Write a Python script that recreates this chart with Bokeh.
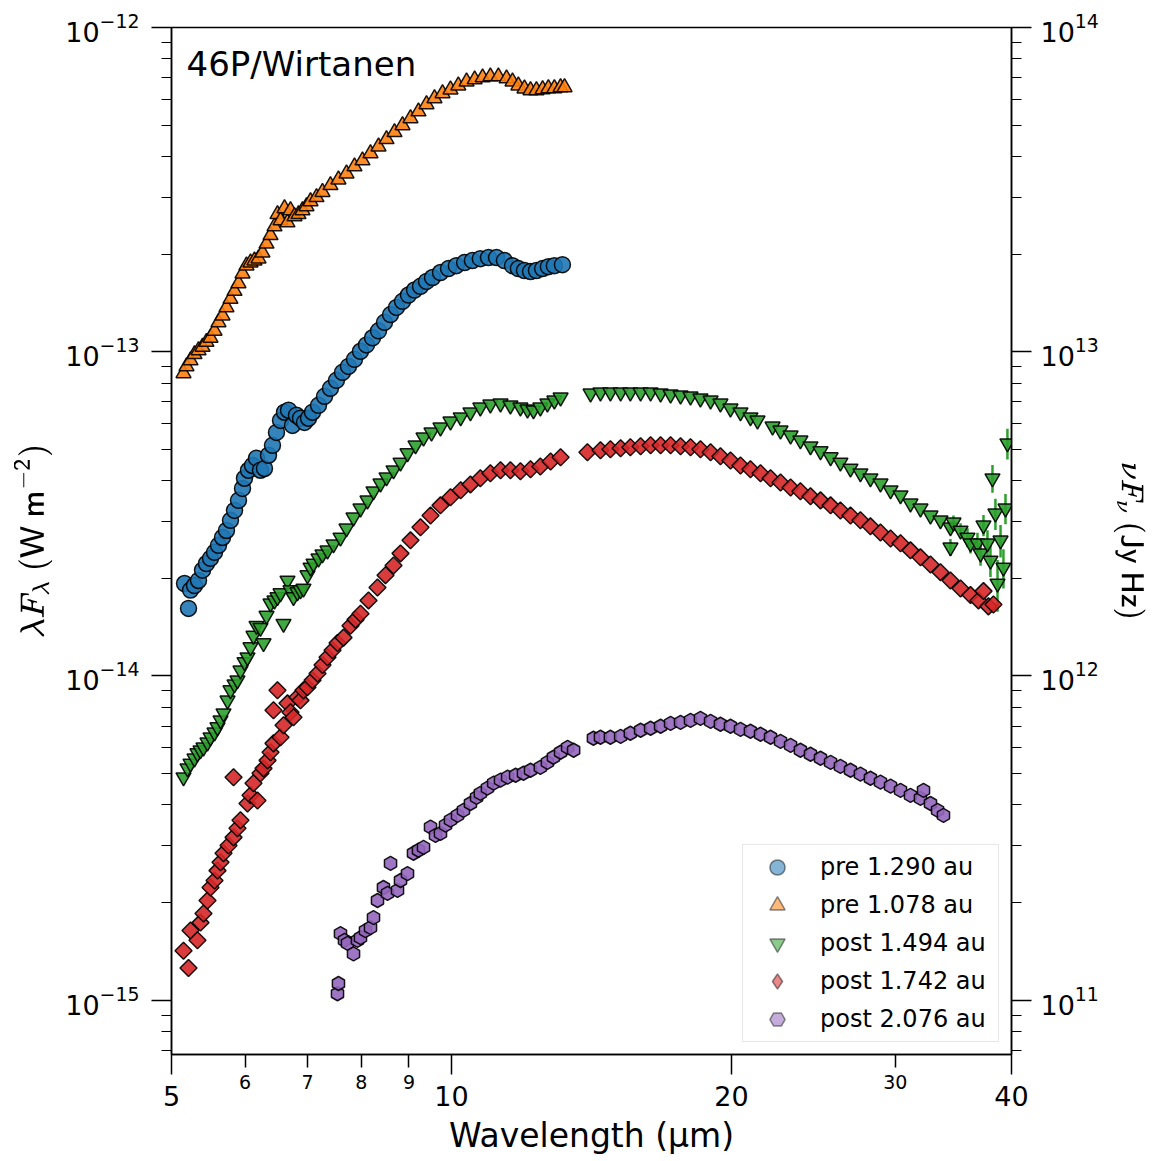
import numpy as np
from bokeh.plotting import figure
from bokeh.models import (Range1d, LogAxis, LogScale, FixedTicker, BasicTickFormatter,
                          Legend, LegendItem, Label)
from bokeh.embed import file_html
from bokeh.resources import INLINE

# ---------------- data (wavelength in micron, flux in 1e-15 W m^-2) ----------------
FLUX_UNIT = 1e-15
W_TO_JYHZ = 1e26   # 1 W m^-2 = 1e26 Jy Hz

blue_wl = [5.164, 5.215, 5.241, 5.293, 5.346, 5.399, 5.452, 5.507, 5.562, 5.617, 5.673, 5.729,
           5.786, 5.844, 5.902, 5.961, 5.990, 6.050, 6.110, 6.171, 6.232, 6.294, 6.357, 6.420,
           6.484, 6.549, 6.614, 6.680, 6.746, 6.813, 6.881, 6.950, 7.019, 7.089, 7.195, 7.303,
           7.411, 7.522, 7.635, 7.749, 7.865, 7.983, 8.102, 8.224, 8.347, 8.472, 8.599, 8.727,
           8.858, 8.990, 9.125, 9.261, 9.400, 9.541, 9.731, 9.926, 10.12, 10.33, 10.53, 10.74,
           10.96, 11.18, 11.40, 11.63, 11.80, 11.98, 12.16, 12.34, 12.53, 12.71, 12.90, 13.16]
blue_flux = [19.28, 16.16, 18.4, 19.01, 19.7, 21.2, 22.22, 23.05, 24.06, 25.29, 26.74, 28.1,
             30.2, 32.4, 34.8, 37.89, 40.72, 43.1, 44.59, 46.96, 43.1, 43.65, 47.96, 51.44,
             56.39, 61.4, 65.07, 66.0, 59.26, 63.7, 62.36, 60.53, 62.36, 65.07, 68.33, 72.83,
             77.1, 81.6, 86.37, 90.1, 94.75, 100.3, 104.98, 110.4, 116.0, 123.2, 130.2, 137.0,
             143.0, 149.6, 155.0, 159.1, 164.8, 169.4, 175.5, 180.5, 184.3, 188.3, 191.0, 193.7,
             195.1, 195.1, 191.0, 184.3, 180.5, 178.0, 176.7, 178.0, 180.5, 183.0, 184.3, 185.6]

orange_wl = [5.151, 5.189, 5.241, 5.293, 5.346, 5.399, 5.452, 5.507, 5.562, 5.617, 5.673, 5.729,
             5.786, 5.844, 5.902, 5.961, 6.020, 6.080, 6.140, 6.202, 6.263, 6.326, 6.389, 6.452,
             6.500, 6.549, 6.614, 6.663, 6.713, 6.780, 6.847, 6.915, 6.984, 7.054, 7.159, 7.266,
             7.411, 7.559, 7.711, 7.865, 8.022, 8.183, 8.347, 8.514, 8.684, 8.858, 9.035, 9.215,
             9.400, 9.588, 9.780, 9.975, 10.17, 10.38, 10.59, 10.80, 11.01, 11.23, 11.46, 11.63,
             11.80, 11.98, 12.16, 12.34, 12.53, 12.71, 12.90, 13.10, 13.23]
orange_flux = [85.8, 90.1, 94.0, 98.2, 101.0, 103.5, 107.2, 110.4, 116.0, 123.2, 129.3, 137.0,
               145.4, 153.9, 162.5, 174.2, 184.3, 188.3, 191.0, 193.7, 202.1, 215.4, 228.7, 243.4,
               265.4, 254.0, 276.8, 250.4, 273.0, 261.6, 265.4, 273.0, 280.8, 290.9, 299.7, 310.6,
               326.2, 339.6, 354.4, 372.8, 389.0, 409.2, 429.3, 452.2, 475.2, 499.0, 524.4, 551.0,
               579.3, 604.7, 626.5, 643.5, 662.0, 681.1, 691.4, 701.3, 706.3, 706.3, 696.3, 681.1,
               662.0, 648.1, 640.0, 640.0, 644.5, 649.0, 649.0, 653.7, 653.7]

green_wl = [5.151, 5.202, 5.241, 5.293, 5.332, 5.372, 5.412, 5.466, 5.507, 5.562, 5.603, 5.645,
            5.687, 5.744, 5.786, 5.844, 5.887, 5.931, 5.990, 6.035, 6.080, 6.125, 6.171, 6.232,
            6.279, 6.326, 6.389, 6.452, 6.500, 6.549, 6.598, 6.663, 6.713, 6.763, 6.830, 6.881,
            6.932, 7.001, 7.054, 7.106, 7.195, 7.266, 7.357, 7.467, 7.597, 7.711, 7.846, 7.983,
            8.122, 8.244, 8.388, 8.514, 8.663, 8.814, 8.968, 9.148, 9.331, 9.517, 9.731, 9.975,
            10.23, 10.48, 10.74, 11.01, 11.29, 11.57, 11.86, 12.07, 12.25, 12.46, 12.68, 12.90,
            13.10,
            14.11, 14.46, 14.82, 15.20, 15.57, 15.97, 16.37, 16.78, 17.20, 17.63, 18.07, 18.52,
            18.99, 19.46, 19.95, 20.45, 20.96, 21.33, 22.14, 22.58, 23.15, 23.72, 24.32, 24.93,
            25.56, 26.19, 26.85, 27.52, 28.21, 28.92, 29.65, 30.39, 31.15, 31.93, 32.73, 33.55,
            34.39, 34.39, 34.65, 35.26, 35.87, 36.14, 36.77, 37.05, 37.32, 37.69, 37.97, 38.16,
            38.44, 38.64, 38.93, 39.21, 39.41, 39.60]
green_flux = [4.87, 5.19, 5.37, 5.57, 5.78, 5.90, 6.02, 6.24, 6.47, 6.70, 6.95, 7.30,
              7.67, 8.41, 9.04, 9.43, 9.70, 10.4, 11.04, 11.42, 12.27, 13.32, 14.28, 14.08,
              12.63, 15.35, 16.74, 17.1, 17.51, 18.01, 14.49, 19.7, 18.4, 17.51, 18.14, 18.4,
              18.61, 20.46, 21.6, 22.22, 23.05, 23.72, 24.4, 25.47, 26.74, 28.53, 30.83, 32.88,
              34.8, 37.13, 39.25, 41.01, 43.1, 45.55, 48.65, 51.44, 54.43, 56.39, 58.42, 60.96,
              62.8, 65.07, 67.37, 68.82, 69.31, 68.33, 67.37, 66.42, 66.0, 67.37, 69.31, 70.8,
              72.31,
              74.4, 74.93, 74.93, 74.93, 74.93, 74.93, 74.93, 74.4, 73.87, 73.35, 72.83, 71.8,
              70.8, 69.31, 66.89, 65.07, 62.8, 61.4, 58.84, 57.2, 55.2, 53.3, 51.08, 49.35,
              47.29, 45.55, 43.65, 42.19, 40.72, 39.25, 37.4, 36.09, 34.07, 32.88, 31.27, 30.2,
              28.74, 24.93, 29.77, 28.1, 26.74, 25.65, 25.65, 23.88, 29.15, 25.65, 22.7, 40.72,
              31.72, 19.28, 26.2, 21.6, 32.88, 52.18]
# uncertainties of the last (long-wavelength) green points, same units
green_tail_err = [1.2, 1.5, 1.5, 1.5, 1.8, 1.8, 2.0, 2.0, 2.2, 2.5, 2.5, 4.0,
                  3.5, 3.5, 3.0, 3.0, 3.5, 5.7]

red_wl = [5.151, 5.215, 5.241, 5.332, 5.372, 5.412, 5.466, 5.507, 5.562, 5.603, 5.645, 5.687,
          5.758, 5.830, 5.887, 5.931, 5.830, 6.035, 6.080, 6.125, 6.186, 6.232, 6.279, 6.342,
          6.389, 6.436, 6.436, 6.500, 6.549, 6.598, 6.663, 6.713, 6.763, 6.830, 6.881, 6.932,
          7.001, 7.089, 7.177, 7.266, 7.357, 7.449, 7.541, 7.654, 7.787, 7.885, 7.983, 8.143,
          8.326, 8.493, 8.663, 8.814, 9.035, 9.261, 9.494, 9.731, 9.975, 10.23, 10.48, 10.74,
          11.01, 11.29, 11.57, 11.86, 12.16, 12.46, 12.78, 13.10,
          14.00, 14.46, 14.82, 15.20, 15.57, 15.97, 16.37, 16.78, 17.20, 17.63, 18.07, 18.52,
          18.99, 19.46, 19.95, 20.45, 20.96, 21.49, 22.03, 22.58, 23.15, 23.72, 24.32, 24.93,
          25.56, 26.19, 26.85, 27.52, 28.21, 28.92, 29.65, 30.39, 31.15, 31.93, 32.73, 33.55,
          34.39, 35.26, 36.14, 36.86, 37.32, 37.78, 38.25]
red_flux = [1.42, 1.257, 1.64, 1.53, 1.735, 1.85, 2.03, 2.226, 2.34, 2.51, 2.662, 2.839,
            3.0, 3.178, 3.392, 3.59, 4.87, 4.043, 4.285, 4.67, 4.13, 5.01, 5.187, 5.49,
            5.817, 6.196, 7.84, 9.04, 6.47, 7.045, 8.233, 7.729, 7.46, 8.60, 8.41, 9.04,
            9.23, 9.70, 10.18, 10.81, 11.42, 12.0, 12.63, 13.13, 14.28, 14.92, 15.56, 17.1,
            18.74, 20.46, 21.91, 23.88, 26.2, 28.74, 31.27, 33.59, 35.59, 37.4, 38.98, 40.72,
            42.19, 43.1, 43.1, 42.79, 43.41, 44.27, 45.87, 47.29,
            49.0, 49.7, 50.05, 50.41, 50.77, 51.13, 51.5, 51.5, 51.5, 51.13, 50.77, 50.05,
            49.0, 47.63, 46.2, 44.59, 43.41, 42.19, 40.72, 39.53, 38.15, 37.13, 35.84, 34.8,
            33.59, 32.4, 31.27, 30.2, 28.94, 27.7, 26.55, 25.65, 24.4, 23.22, 22.06, 20.9,
            19.7, 18.61, 17.76, 17.1, 18.27, 16.39, 16.62]

purple_wl = [7.541, 7.559, 7.597, 7.673, 7.730, 7.846, 7.924, 7.983, 8.082, 8.183, 8.244, 8.326,
             8.450, 8.599, 8.535, 8.749, 8.814, 8.968, 9.102, 9.215, 9.331, 9.494, 9.612, 9.731,
             9.853, 9.975, 10.15, 10.30, 10.48, 10.64, 10.74, 10.93, 11.10, 11.29, 11.49, 11.72,
             11.95, 12.16, 12.46, 12.68, 12.87, 13.10, 13.33, 13.53,
             14.21, 14.46, 14.82, 15.20, 15.57, 15.97, 16.37, 16.78, 17.20, 17.63, 18.07, 18.52,
             18.99, 19.46, 19.95, 20.45, 20.96, 21.49, 22.03, 22.58, 23.15, 23.72, 24.32, 24.93,
             25.56, 26.19, 26.85, 27.52, 28.21, 28.92, 29.65, 30.39, 31.15, 31.93, 32.17, 32.73,
             33.31, 33.80]
purple_flux = [1.047, 1.126, 1.605, 1.53, 1.498, 1.39, 1.53, 1.56, 1.64, 1.675, 1.798, 2.03,
               2.226, 2.643, 2.134, 2.18, 2.34, 2.457, 2.839, 2.90, 2.959, 3.416, 3.223, 3.27,
               3.465, 3.59, 3.716, 3.85, 4.043, 4.225, 4.346, 4.507, 4.669, 4.77, 4.872, 4.941,
               5.012, 5.12, 5.224, 5.413, 5.614, 5.817, 6.023, 5.90,
               6.425, 6.47, 6.47, 6.516, 6.657, 6.80, 6.897, 6.996, 7.146, 7.197, 7.30, 7.404,
               7.248, 7.096, 6.996, 6.848, 6.752, 6.61, 6.47, 6.285, 6.109, 5.90, 5.735, 5.574,
               5.413, 5.261, 5.12, 4.977, 4.837, 4.703, 4.571, 4.44, 4.285, 4.195, 4.44, 4.043,
               3.85, 3.716]

series_labels = ["pre 1.290 au", "pre 1.078 au", "post 1.494 au", "post 1.742 au", "post 2.076 au"]
series_colors = ["#1f77b4", "#ff7f0e", "#2ca02c", "#d62728", "#9467bd"]

x_major_ticks = [5, 10, 20, 40]
x_minor_labelled = [6, 7, 8, 9, 30]
y_decades = [-15, -14, -13, -12]

x_lo, x_hi = 5, 40
y_lo, y_hi = 6.8e-16, 1e-12

FONT = "DejaVu Sans"

# ---------------- figure ----------------
p = figure(x_axis_type="log", y_axis_type="log",
           x_range=Range1d(x_lo, x_hi), y_range=Range1d(y_lo, y_hi),
           frame_width=840, frame_height=1027,
           min_border_left=171, min_border_right=148, min_border_top=27, min_border_bottom=107,
           output_backend="svg", toolbar_location=None)
p.xgrid.visible = False
p.ygrid.visible = False
p.outline_line_color = "black"
p.outline_line_width = 1.5
p.background_fill_color = "white"
p.border_fill_color = "white"

y_major = [10.0 ** e for e in y_decades]
y_minor = [m * 10.0 ** e for e in range(y_decades[0] - 1, y_decades[-1]) for m in range(2, 10)]

def style_axis(ax, label_size="27px"):
    ax.axis_line_color = "black"
    ax.axis_line_width = 1.5
    ax.major_tick_line_width = 1.5
    ax.minor_tick_line_width = 1.2
    ax.major_tick_in = 0
    ax.minor_tick_in = 0
    ax.major_tick_out = 20
    ax.minor_tick_out = 10
    ax.major_label_text_font = FONT
    ax.major_label_text_font_size = label_size
    ax.major_label_text_color = "black"
    ax.axis_label_text_font = FONT
    ax.axis_label_text_font_style = "normal"
    ax.axis_label_text_font_size = "33px"
    ax.axis_label_text_color = "black"

# bottom axis 1 (next to the frame): small labels on 6,7,8,9,30; long ticks at 5,10,20,40
xax = p.xaxis[0]
xax.ticker = FixedTicker(ticks=x_minor_labelled, minor_ticks=x_major_ticks)
xax.formatter = BasicTickFormatter()
style_axis(xax, label_size="19px")
xax.major_tick_out = 13
xax.minor_tick_out = 20
xax.minor_tick_line_width = 1.5
xax.major_label_standoff = 0

# bottom axis 2: large labels 5,10,20,40 and the axis title
xax2 = LogAxis(ticker=FixedTicker(ticks=x_major_ticks, minor_ticks=[]),
               formatter=BasicTickFormatter())
style_axis(xax2)
xax2.axis_line_color = None
xax2.major_tick_line_color = None
xax2.minor_tick_line_color = None
xax2.major_tick_out = 0
xax2.minor_tick_out = 0
xax2.major_label_standoff = -6
xax2.axis_label = "Wavelength (µm)"
xax2.axis_label_standoff = 7
p.add_layout(xax2, "below")

# left axis
yax = p.yaxis[0]
yax.ticker = FixedTicker(ticks=y_major, minor_ticks=y_minor)
style_axis(yax)
yax.major_label_standoff = 12
yax.axis_label = r"$$\lambda F_\lambda\ (\mathsf{W\ m^{-2}})$$"
yax.axis_label_text_font_size = "26px"
yax.axis_label_standoff = 10

# right axis (nu F_nu in Jy Hz)
p.extra_y_ranges = {"jyhz": Range1d(y_lo * W_TO_JYHZ, y_hi * W_TO_JYHZ)}
p.extra_y_scales = {"jyhz": LogScale()}
rax = LogAxis(y_range_name="jyhz",
              ticker=FixedTicker(ticks=[v * W_TO_JYHZ for v in y_major],
                                 minor_ticks=[v * W_TO_JYHZ for v in y_minor]))
style_axis(rax)
rax.major_label_standoff = 9
rax.axis_label = r"$$\nu F_\nu\ (\mathsf{Jy\ Hz})$$"
rax.axis_label_text_font_size = "25px"
rax.axis_label_standoff = 12
p.add_layout(rax, "right")

# ---------------- data markers ----------------
def to_flux(vals):
    return np.array(vals) * FLUX_UNIT

# green error bars (visible only at long wavelengths)
n_tail = len(green_tail_err)
gw = np.array(green_wl[-n_tail:])
gf = np.array(green_flux[-n_tail:])
ge = np.array(green_tail_err)
p.segment(x0=gw, y0=(gf - ge) * FLUX_UNIT, x1=gw, y1=(gf + ge) * FLUX_UNIT,
          line_color=series_colors[2], line_width=2.5)

# (data arrays, plot marker, size, angle, legend marker)
marker_specs = [
    (blue_wl, blue_flux, "circle", 16, 0.0, "circle"),
    (orange_wl, orange_flux, "triangle", 15, 0.0, "triangle"),
    (green_wl, green_flux, "inverted_triangle", 15, 0.0, "inverted_triangle"),
    (red_wl, red_flux, "square", 12, np.pi / 4, "diamond"),
    (purple_wl, purple_flux, "hex", 14, np.pi / 6, "hex"),
]

legend_items = []
for (wl, fl, marker, size, ang, lmarker), color, label in zip(
        marker_specs, series_colors, series_labels):
    yv = to_flux(fl)
    p.scatter(x=wl, y=yv, marker=marker, size=size, angle=ang,
              fill_color=color, fill_alpha=0.9, line_color="black", line_width=1.5, line_alpha=0.9)
    # hidden renderer that only supplies the translucent legend glyph
    r_leg = p.scatter(x=wl, y=yv, marker=lmarker, size=size,
                      fill_color=color, fill_alpha=0.55, line_color="black", line_alpha=0.45,
                      line_width=1.5, visible=False)
    legend_items.append(LegendItem(label=label, renderers=[r_leg]))

legend = Legend(items=legend_items, location="bottom_right", margin=12, padding=3,
                glyph_width=62, glyph_height=38, label_height=38, label_width=175, spacing=0,
                label_standoff=12,
                label_text_font=FONT, label_text_font_size="24px", label_text_color="black",
                border_line_color="#d0d0d0", border_line_width=1.5,
                background_fill_color="white", background_fill_alpha=0.85,
                inactive_fill_alpha=0.0, click_policy="none")
p.add_layout(legend)

# comet name
p.add_layout(Label(x=15, y=991, x_units="screen", y_units="screen", text="46P/Wirtanen",
                   text_font=FONT, text_font_size="34px", text_baseline="alphabetic",
                   text_color="black"))

open("out.html", "w").write(file_html(p, INLINE))
